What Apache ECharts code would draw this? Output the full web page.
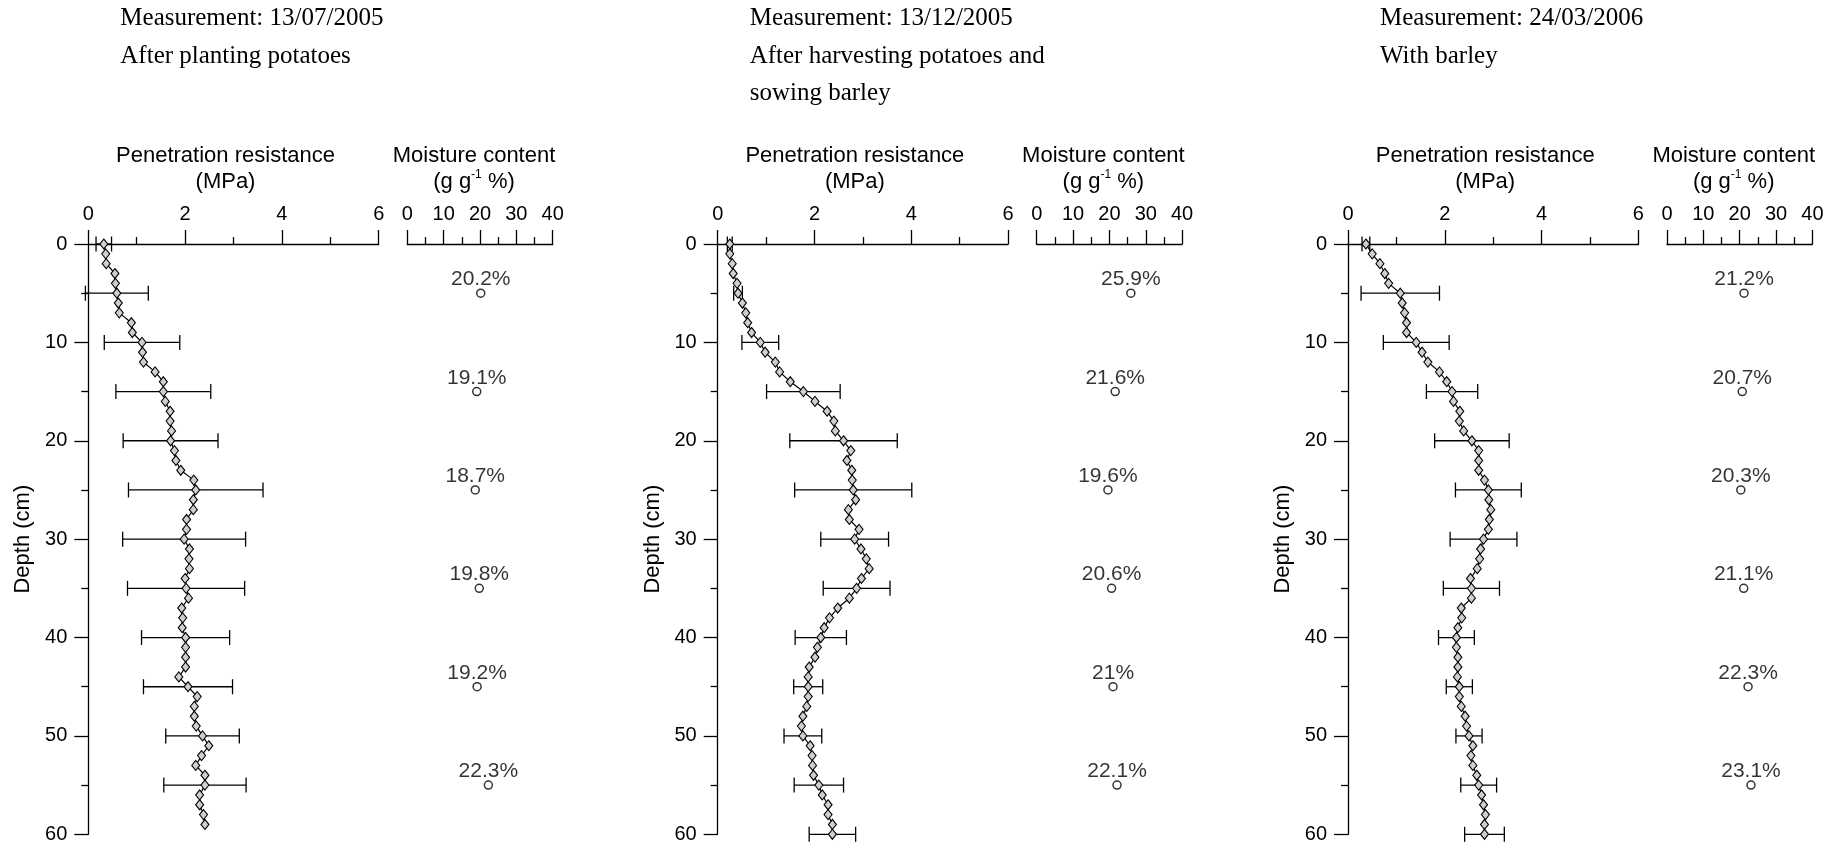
<!DOCTYPE html>
<html>
<head>
<meta charset="utf-8">
<script src="https://cdn.jsdelivr.net/npm/echarts@6.0.0/dist/echarts.min.js"></script>
<style>
  html, body { margin: 0; padding: 0; background: #fff; }
  #chart { width: 1839px; height: 848px; }
</style>
</head>
<body>
<div id="chart"></div>
<script>
// Soil profiles: penetration resistance (mean ± SD) and gravimetric moisture content by depth

const panelTitles = [
  'Measurement: 13/07/2005\nAfter planting potatoes',
  'Measurement: 13/12/2005\nAfter harvesting potatoes and\nsowing barley',
  'Measurement: 24/03/2006\nWith barley'
];

// Depth of each resistance reading (cm)
const depthA = [0,1,2,3,4,5,6,7,8,9,10,11,12,13,14,15,16,17,18,19,20,21,22,23,24,25,26,27,28,29,
                30,31,32,33,34,35,36,37,38,39,40,41,42,43,44,45,46,47,48,49,50,51,52,53,54,55,56,57,58,59];
const depthB = [0,1,2,3,4,5,6,7,8,9,10,11,12,13,14,15,16,17,18,19,20,21,22,23,24,25,26,27,28,29,
                30,31,32,33,34,35,36,37,38,39,40,41,42,43,44,45,46,47,48,49,50,51,52,53,54,55,56,57,58,59,60];

// Mean penetration resistance (MPa)
const resistJul05 = [0.32,0.36,0.37,0.55,0.56,0.59,0.62,0.64,0.89,0.91,1.11,1.12,1.14,1.38,1.55,1.55,1.59,1.69,1.69,1.72,
                     1.70,1.78,1.81,1.91,2.18,2.22,2.17,2.17,2.03,2.03,1.98,2.09,2.08,2.09,2.00,2.02,2.07,1.93,1.95,1.94,
                     2.01,2.01,2.01,2.01,1.87,2.06,2.25,2.19,2.19,2.23,2.36,2.49,2.34,2.22,2.41,2.41,2.30,2.30,2.38,2.41];
const resistDec05 = [0.25,0.25,0.30,0.32,0.40,0.42,0.51,0.58,0.62,0.70,0.88,0.98,1.19,1.28,1.50,1.77,2.01,2.26,2.40,2.43,
                     2.60,2.75,2.67,2.77,2.78,2.80,2.85,2.70,2.72,2.92,2.83,2.96,3.07,3.13,2.97,2.87,2.72,2.48,2.31,2.20,
                     2.13,2.06,2.01,1.89,1.87,1.87,1.87,1.84,1.76,1.73,1.76,1.91,1.95,1.96,1.98,2.09,2.16,2.28,2.28,2.37,2.37];
const resistMar06 = [0.37,0.50,0.66,0.76,0.84,1.08,1.12,1.17,1.21,1.21,1.41,1.53,1.65,1.89,2.04,2.15,2.18,2.31,2.30,2.39,
                     2.56,2.70,2.70,2.70,2.82,2.90,2.91,2.95,2.92,2.90,2.80,2.74,2.72,2.67,2.53,2.55,2.55,2.34,2.35,2.27,
                     2.24,2.24,2.27,2.27,2.26,2.30,2.30,2.34,2.42,2.45,2.50,2.58,2.54,2.58,2.66,2.70,2.76,2.80,2.84,2.82,2.82];

// Depths with a standard deviation, and the SD itself (MPa)
const sdDepthA = [0,5,10,15,20,25,30,35,40,45,50,55];
const sdDepthB = [0,5,10,15,20,25,30,35,40,45,50,55,60];
const sdJul05 = [0.16,0.65,0.78,0.98,0.98,1.39,1.27,1.21,0.91,0.92,0.76,0.85];
const sdDec05 = [0.05,0.09,0.38,0.76,1.11,1.21,0.70,0.69,0.53,0.30,0.39,0.51,0.48];
const sdMar06 = [0.08,0.81,0.68,0.53,0.77,0.68,0.69,0.58,0.37,0.27,0.27,0.37,0.41];

// Moisture content (g g-1 %)
const moistDepth = [5,15,25,35,45,55];
const moistJul05 = [20.2,19.1,18.7,19.8,19.2,22.3];
const moistDec05 = [25.9,21.6,19.6,20.6,21,22.1];
const moistMar06 = [21.2,20.7,20.3,21.1,22.3,23.1];

const prTicks = { min: 0, max: 6, interval: 2 };
const mcTicks = { min: 0, max: 40, interval: 10 };
const depthTicks = { min: 0, max: 60, interval: 10 };

const panels = [
  { title: panelTitles[0], depth: depthA, mean: resistJul05, sdDepth: sdDepthA, sd: sdJul05, moist: moistJul05 },
  { title: panelTitles[1], depth: depthB, mean: resistDec05, sdDepth: sdDepthB, sd: sdDec05, moist: moistDec05 },
  { title: panelTitles[2], depth: depthB, mean: resistMar06, sdDepth: sdDepthB, sd: sdMar06, moist: moistMar06 }
];

// ---- layout ----
const SANS = 'Liberation Sans, Arial, Helvetica, sans-serif';
const SERIF = 'Liberation Serif, Times New Roman, serif';
const INK = '#000';
const panelX = [88.3, 717.7, 1348];
const plotTop = 244, plotH = 590.3;
const prW = 290.4, mcOffset = 319, mcW = 145.4;

function lineStyle() { return { color: INK, width: 1.3 }; }

function topAxis(gi, ticks, name, extra) {
  return Object.assign({
    gridIndex: gi,
    type: 'value',
    position: 'top',
    min: ticks.min, max: ticks.max, interval: ticks.interval,
    axisLine: { show: true, onZero: false, lineStyle: lineStyle() },
    axisTick: { show: true, inside: false, length: 14, lineStyle: lineStyle() },
    minorTick: { show: true, splitNumber: 2, length: 7, lineStyle: lineStyle() },
    splitLine: { show: false },
    minorSplitLine: { show: false },
    axisLabel: { show: true, margin: 20, fontSize: 20, color: INK, fontFamily: SANS,
                 showMinLabel: true, showMaxLabel: true, hideOverlap: false },
    name: name,
    nameLocation: 'middle',
    nameGap: 49,
    nameMoveOverlap: false
  }, extra || {});
}

function depthAxis(gi, visible) {
  return {
    gridIndex: gi,
    type: 'value',
    position: 'left',
    inverse: true,
    show: visible,
    min: depthTicks.min, max: depthTicks.max, interval: depthTicks.interval,
    axisLine: { show: true, onZero: false, lineStyle: lineStyle() },
    axisTick: { show: true, inside: false, length: 14, lineStyle: lineStyle() },
    minorTick: { show: true, splitNumber: 2, length: 7, lineStyle: lineStyle() },
    splitLine: { show: false },
    minorSplitLine: { show: false },
    axisLabel: { show: true, margin: 21, fontSize: 20, color: INK, fontFamily: SANS,
                 showMinLabel: true, showMaxLabel: true, hideOverlap: false },
    name: visible ? 'Depth (cm)' : '',
    nameLocation: 'middle',
    nameGap: 54,
    nameMoveOverlap: false,
    nameTextStyle: { fontSize: 22, color: INK, fontFamily: SANS }
  };
}

function renderErrorBar(params, api) {
  const m = api.value(0), d = api.value(1), s = api.value(2);
  const lo = api.coord([m - s, d]);
  const hi = api.coord([m + s, d]);
  const cap = 7.5;
  const st = { stroke: INK, lineWidth: 1.3, fill: null };
  return {
    type: 'group',
    children: [
      { type: 'line', shape: { x1: lo[0], y1: lo[1], x2: hi[0], y2: hi[1] }, style: st },
      { type: 'line', shape: { x1: lo[0], y1: lo[1] - cap, x2: lo[0], y2: lo[1] + cap }, style: st },
      { type: 'line', shape: { x1: hi[0], y1: hi[1] - cap, x2: hi[0], y2: hi[1] + cap }, style: st }
    ]
  };
}

const grid = [], xAxis = [], yAxis = [], series = [], title = [];

panels.forEach((p, i) => {
  const left = panelX[i];
  const gPR = i * 2, gMC = i * 2 + 1;

  grid.push({ left: left, top: plotTop, width: prW, height: plotH, containLabel: false, outerBoundsMode: 'none' });
  grid.push({ left: left + mcOffset, top: plotTop, width: mcW, height: plotH, containLabel: false, outerBoundsMode: 'none' });

  xAxis.push(topAxis(gPR, prTicks, 'Penetration resistance\n(MPa)', {
    nameTextStyle: { fontSize: 22, lineHeight: 26, color: INK, fontFamily: SANS, padding: [0, 16, 0, 0] }
  }));
  xAxis.push(topAxis(gMC, mcTicks, '{n|Moisture content}\n{n|(g g}{s|-1}{n| %)}', {
    nameTextStyle: {
      fontSize: 22, lineHeight: 26, color: INK, fontFamily: SANS, padding: [0, 12, 0, 0],
      rich: {
        n: { fontSize: 22, lineHeight: 26, color: INK, fontFamily: SANS },
        s: { fontSize: 12, lineHeight: 14, verticalAlign: 'top', color: INK, fontFamily: SANS }
      }
    }
  }));

  yAxis.push(depthAxis(gPR, true));
  yAxis.push(depthAxis(gMC, false));

  title.push({
    text: p.title,
    left: left + 32,
    top: 0,
    padding: 0,
    textStyle: { fontFamily: SERIF, fontSize: 25, lineHeight: 37.5, fontWeight: 'normal', color: INK }
  });

  // mean ± SD bars
  series.push({
    type: 'custom',
    xAxisIndex: gPR, yAxisIndex: gPR,
    renderItem: renderErrorBar,
    encode: { x: 0, y: 1 },
    data: p.sdDepth.map((d, k) => [p.mean[p.depth.indexOf(d)], d, p.sd[k]]),
    z: 2,
    silent: true
  });

  // mean resistance profile
  series.push({
    type: 'line',
    xAxisIndex: gPR, yAxisIndex: gPR,
    data: p.depth.map((d, k) => [p.mean[k], d]),
    symbol: 'diamond',
    symbolSize: [8, 10],
    showSymbol: true,
    showAllSymbol: true,
    lineStyle: { color: INK, width: 1.2 },
    itemStyle: { color: '#cfcfcf', borderColor: INK, borderWidth: 1.1 },
    emphasis: { disabled: true },
    z: 3,
    silent: true
  });

  // moisture content
  series.push({
    type: 'scatter',
    xAxisIndex: gMC, yAxisIndex: gMC,
    data: moistDepth.map((d, k) => [p.moist[k], d]),
    symbol: 'circle',
    symbolSize: 8,
    itemStyle: { color: '#fff', borderColor: INK, borderWidth: 1.5 },
    label: {
      show: true,
      position: 'top',
      distance: -1,
      fontSize: 21,
      lineHeight: 20,
      color: INK,
      fontFamily: SANS,
      formatter: (q) => q.value[0] + '%'
    },
    emphasis: { disabled: true },
    silent: true
  });
});

const chart = echarts.init(document.getElementById('chart'), null, { renderer: 'canvas' });
chart.setOption({
  backgroundColor: '#fff',
  animation: false,
  title: title,
  grid: grid,
  xAxis: xAxis,
  yAxis: yAxis,
  series: series
});
</script>
</body>
</html>
